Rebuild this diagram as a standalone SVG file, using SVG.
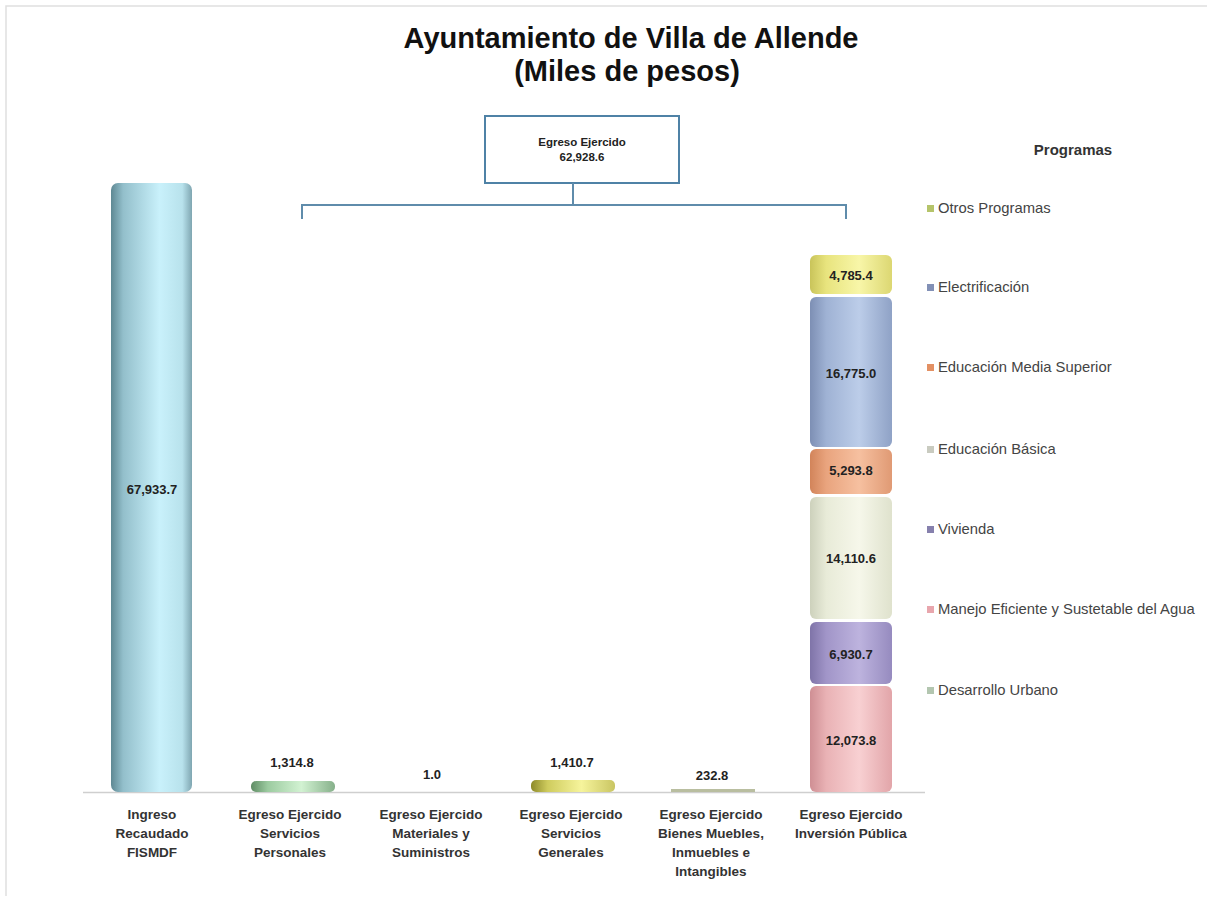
<svg xmlns="http://www.w3.org/2000/svg" width="1207" height="906" viewBox="0 0 1207 906">
<style>
.title{font-family:"Liberation Sans",Arial,sans-serif;font-weight:bold;font-size:29px;fill:#111;text-anchor:middle}
.val{font-family:"Liberation Sans",Arial,sans-serif;font-weight:bold;font-size:13px;fill:#222;text-anchor:middle}
.cat{font-family:"Liberation Sans",Arial,sans-serif;font-weight:bold;font-size:13.5px;fill:#333;text-anchor:middle}
.leg{font-family:"Liberation Sans",Arial,sans-serif;font-size:14.8px;fill:#444}
.legh{font-family:"Liberation Sans",Arial,sans-serif;font-weight:bold;font-size:15px;fill:#333;text-anchor:middle}
.box{font-family:"Liberation Sans",Arial,sans-serif;font-weight:bold;font-size:11.5px;fill:#222;text-anchor:middle}
.conn{fill:none;stroke:#5f8cab;stroke-width:2}
</style>
<defs>
<linearGradient id="gCyan" x1="0" y1="0" x2="1" y2="0"><stop offset="0" stop-color="#5e8893"/><stop offset="0.15" stop-color="#93bfcb"/><stop offset="0.6" stop-color="#c9f1fb"/><stop offset="0.88" stop-color="#b8e2ec"/><stop offset="1" stop-color="#7fa6b1"/></linearGradient>
<linearGradient id="gGreen" x1="0" y1="0" x2="1" y2="0"><stop offset="0" stop-color="#5f8c64"/><stop offset="0.2" stop-color="#9ccba0"/><stop offset="0.6" stop-color="#d2f2d2"/><stop offset="1" stop-color="#86b08a"/></linearGradient>
<linearGradient id="gYel" x1="0" y1="0" x2="1" y2="0"><stop offset="0" stop-color="#8d8a2a"/><stop offset="0.2" stop-color="#cfcc5e"/><stop offset="0.6" stop-color="#f6f49c"/><stop offset="1" stop-color="#c9c562"/></linearGradient>
<linearGradient id="gYel2" x1="0" y1="0" x2="1" y2="0"><stop offset="0" stop-color="#c9c45a"/><stop offset="0.2" stop-color="#e8e47e"/><stop offset="0.6" stop-color="#f8f6a8"/><stop offset="1" stop-color="#dcd772"/></linearGradient>
<linearGradient id="gBlue" x1="0" y1="0" x2="1" y2="0"><stop offset="0" stop-color="#7d8fb4"/><stop offset="0.2" stop-color="#9fb2d4"/><stop offset="0.6" stop-color="#bccde9"/><stop offset="1" stop-color="#8fa2c6"/></linearGradient>
<linearGradient id="gOrange" x1="0" y1="0" x2="1" y2="0"><stop offset="0" stop-color="#d2845a"/><stop offset="0.2" stop-color="#e9a47e"/><stop offset="0.6" stop-color="#f6c0a0"/><stop offset="1" stop-color="#e09a74"/></linearGradient>
<linearGradient id="gBeige" x1="0" y1="0" x2="1" y2="0"><stop offset="0" stop-color="#cdd1bc"/><stop offset="0.2" stop-color="#e8ebd8"/><stop offset="0.6" stop-color="#f6f7ea"/><stop offset="1" stop-color="#dfe2cd"/></linearGradient>
<linearGradient id="gPurple" x1="0" y1="0" x2="1" y2="0"><stop offset="0" stop-color="#7f74a8"/><stop offset="0.2" stop-color="#a195c8"/><stop offset="0.6" stop-color="#bdb3de"/><stop offset="1" stop-color="#968bbf"/></linearGradient>
<linearGradient id="gPink" x1="0" y1="0" x2="1" y2="0"><stop offset="0" stop-color="#cf8f94"/><stop offset="0.2" stop-color="#e9b2b5"/><stop offset="0.6" stop-color="#f8d0d2"/><stop offset="1" stop-color="#e2a5a9"/></linearGradient>
</defs>
<rect x="0" y="0" width="1207" height="906" fill="#ffffff"/>
<path d="M6 896 V6 H1207" fill="none" stroke="#e0e0e0" stroke-width="1.5"/>

<g id="title">
<text class="title" x="631" y="48">Ayuntamiento de Villa de Allende</text>
<text class="title" x="627" y="81">(Miles de pesos)</text>
</g>

<g id="egreso-total">
<rect x="485" y="116" width="194" height="67" fill="#fff" stroke="#4f82a6" stroke-width="2"/>
<text class="box" x="582" y="146">Egreso Ejercido</text>
<text class="box" x="582" y="161">62,928.6</text>
</g>

<g id="connectors">
<path class="conn" d="M573 183 V205"/>
<path class="conn" d="M302 219 V205 H846 V219"/>
</g>

<line x1="83" y1="792.5" x2="925" y2="792.5" stroke="#cfcfcf" stroke-width="1.5"/>

<g id="bar-fismdf">
<rect x="111" y="183" width="81" height="609" rx="7" fill="url(#gCyan)"/>
<text class="val" x="152" y="494">67,933.7</text>
</g>
<g id="bar-servicios-personales">
<rect x="251" y="781" width="84" height="11" rx="5" fill="url(#gGreen)"/>
<text class="val" x="292" y="767">1,314.8</text>
</g>
<g id="bar-materiales">
<text class="val" x="432" y="779">1.0</text>
</g>
<g id="bar-servicios-generales">
<rect x="531" y="780" width="84" height="12" rx="5" fill="url(#gYel)"/>
<text class="val" x="572" y="767">1,410.7</text>
</g>
<g id="bar-bienes">
<rect x="671" y="789" width="84" height="3" fill="#b9bea0"/>
<text class="val" x="712" y="780">232.8</text>
</g>
<g id="bar-inversion">
<rect x="810" y="255" width="82" height="39" rx="6" fill="url(#gYel2)"/>
<text class="val" x="851" y="280">4,785.4</text>
<rect x="810" y="297" width="82" height="150" rx="6" fill="url(#gBlue)"/>
<text class="val" x="851" y="378" fill="#1f2d50">16,775.0</text>
<rect x="810" y="449" width="82" height="45" rx="6" fill="url(#gOrange)"/>
<text class="val" x="851" y="475">5,293.8</text>
<rect x="810" y="497" width="82" height="122" rx="6" fill="url(#gBeige)"/>
<text class="val" x="851" y="563">14,110.6</text>
<rect x="810" y="622" width="82" height="62" rx="6" fill="url(#gPurple)"/>
<text class="val" x="851" y="659">6,930.7</text>
<rect x="810" y="686" width="82" height="106" rx="6" fill="url(#gPink)"/>
<text class="val" x="851" y="745">12,073.8</text>
</g>

<g id="categories">
<text class="cat" x="152" y="819">Ingreso</text>
<text class="cat" x="152" y="838">Recaudado</text>
<text class="cat" x="152" y="857">FISMDF</text>
<text class="cat" x="290" y="819">Egreso Ejercido</text>
<text class="cat" x="290" y="838">Servicios</text>
<text class="cat" x="290" y="857">Personales</text>
<text class="cat" x="431" y="819">Egreso Ejercido</text>
<text class="cat" x="431" y="838">Materiales y</text>
<text class="cat" x="431" y="857">Suministros</text>
<text class="cat" x="571" y="819">Egreso Ejercido</text>
<text class="cat" x="571" y="838">Servicios</text>
<text class="cat" x="571" y="857">Generales</text>
<text class="cat" x="711" y="819">Egreso Ejercido</text>
<text class="cat" x="711" y="838">Bienes Muebles,</text>
<text class="cat" x="711" y="857">Inmuebles e</text>
<text class="cat" x="711" y="876">Intangibles</text>
<text class="cat" x="851" y="819">Egreso Ejercido</text>
<text class="cat" x="851" y="838">Inversión Pública</text>
</g>

<g id="legend">
<text class="legh" x="1073" y="155">Programas</text>
<rect x="927" y="205" width="7" height="7" fill="#b5c46a"/>
<text class="leg" x="938" y="213">Otros Programas</text>
<rect x="927" y="284" width="7" height="7" fill="#8290b6"/>
<text class="leg" x="938" y="292">Electrificación</text>
<rect x="927" y="364" width="7" height="7" fill="#e39063"/>
<text class="leg" x="938" y="372">Educación Media Superior</text>
<rect x="927" y="446" width="7" height="7" fill="#c9cbc0"/>
<text class="leg" x="938" y="454">Educación Básica</text>
<rect x="927" y="526" width="7" height="7" fill="#8680ad"/>
<text class="leg" x="938" y="534">Vivienda</text>
<rect x="927" y="606" width="7" height="7" fill="#e8a6ad"/>
<text class="leg" x="938" y="614">Manejo Eficiente y Sustetable del Agua</text>
<rect x="927" y="687" width="7" height="7" fill="#b3c6b0"/>
<text class="leg" x="938" y="695">Desarrollo Urbano</text>
</g>
</svg>
